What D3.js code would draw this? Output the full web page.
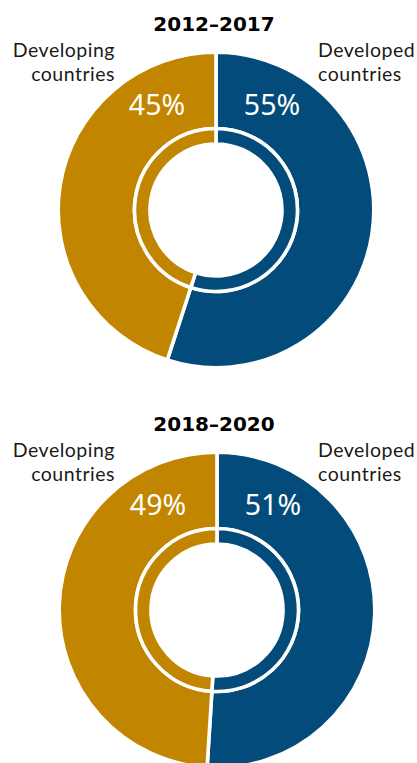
<!DOCTYPE html>
<html>
<head>
<meta charset="utf-8">
<script src="https://cdn.jsdelivr.net/npm/d3@7"></script>
<style>
  body { margin: 0; background: #fff; }
  svg { display: block; }
</style>
</head>
<body>
<svg width="417" height="763"></svg>
<script>
// data
var periods = ["2012–2017", "2018–2020"];
var categories = ["Developed countries", "Developing countries"];
var developed = [55, 51];
var developing = [45, 49];

var colors = ["#024b7a", "#c28500"];

var svg = d3.select("svg"),
    width = +svg.attr("width");

var centers = [[216, 210], [217, 610]];

var pie = d3.pie().sort(null).value(function(d) { return d.value; });

var outerArc = d3.arc().innerRadius(81.5).outerRadius(157.8);
var innerArc = d3.arc().innerRadius(66).outerRadius(81.5);

periods.forEach(function(p, i) {
  var data = [
    { name: categories[0], value: developed[i] },
    { name: categories[1], value: developing[i] }
  ];
  var arcs = pie(data);

  var g = svg.append("g")
    .attr("transform", "translate(" + centers[i][0] + "," + centers[i][1] + ")");

  g.selectAll("path.outer")
    .data(arcs)
    .enter().append("path")
    .attr("class", "outer")
    .attr("d", outerArc)
    .attr("fill", function(d, j) { return colors[j]; })
    .attr("stroke", "#fff")
    .attr("stroke-width", 3.6);

  g.selectAll("path.inner")
    .data(arcs)
    .enter().append("path")
    .attr("class", "inner")
    .attr("d", innerArc)
    .attr("fill", function(d, j) { return colors[j]; })
    .attr("stroke", "#fff")
    .attr("stroke-width", 3.6);

  // title
  svg.append("text")
    .attr("x", 214)
    .attr("y", centers[i][1] - 179)
    .attr("text-anchor", "middle")
    .attr("font-family", "DejaVu Sans")
    .attr("font-weight", "bold")
    .attr("font-size", 20)
    .attr("fill", "#000")
    .text(p);

  // side labels
  var words = [categories[1].split(" "), categories[0].split(" ")];
  var lab = svg.append("g")
    .attr("font-family", "Lato")
    .attr("font-size", 19.5)
    .attr("letter-spacing", 0.5)
    .attr("fill", "#1a1a1a");
  words[0].forEach(function(w, k) {
    lab.append("text")
      .attr("x", 115)
      .attr("y", centers[i][1] - 153 + k * 23.5)
      .attr("text-anchor", "end")
      .text(w);
  });
  words[1].forEach(function(w, k) {
    lab.append("text")
      .attr("x", 318)
      .attr("y", centers[i][1] - 153 + k * 23.5)
      .attr("text-anchor", "start")
      .text(w);
  });

  // percentages
  g.append("text")
    .attr("x", 56)
    .attr("y", -95)
    .attr("text-anchor", "middle")
    .attr("font-family", "Noto Sans")
    .attr("font-size", 28.5)
    .attr("fill", "#fff")
    .text(developed[i] + "%");
  g.append("text")
    .attr("x", -59)
    .attr("y", -95)
    .attr("text-anchor", "middle")
    .attr("font-family", "Noto Sans")
    .attr("font-size", 28.5)
    .attr("fill", "#fff")
    .text(developing[i] + "%");
});
</script>
</body>
</html>
